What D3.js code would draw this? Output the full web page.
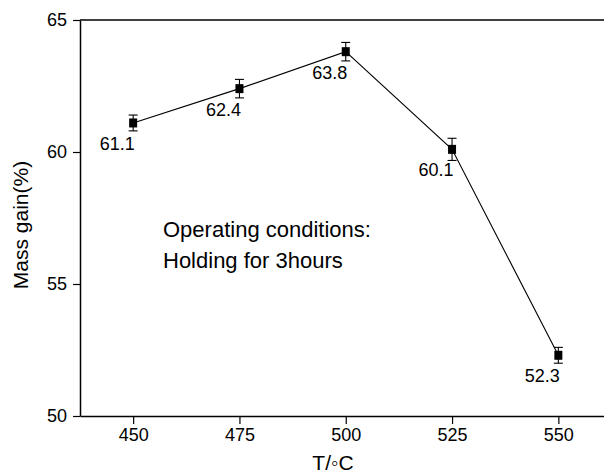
<!DOCTYPE html>
<html>
<head>
<meta charset="utf-8">
<script src="https://cdn.jsdelivr.net/npm/d3@7"></script>
<style>
  body { margin: 0; background: #fff; }
  svg { font-family: "Liberation Sans", Arial, sans-serif; }
</style>
</head>
<body>
<div id="chart"></div>
<script>
// data
var temps = [450, 475, 500, 525, 550];
var gains = [61.1, 62.4, 63.8, 60.1, 52.3];
var errs = [0.3, 0.35, 0.35, 0.42, 0.3];
var xTicks = [450, 475, 500, 525, 550];
var yTicks = [50, 55, 60, 65];
var note = ["Operating conditions:", "Holding for 3hours"];

var W = 604, H = 473;
var svg = d3.select("#chart").append("svg")
    .attr("width", W)
    .attr("height", H);

// scales
var x = d3.scaleLinear().domain([437.5, 562.5]).range([80, 611.5]);
var y = d3.scaleLinear().domain([50, 65]).range([416, 20]);

// axes
var xAxis = d3.axisBottom(x).tickValues(xTicks).tickSize(8).tickSizeOuter(0).tickPadding(4);
var yAxis = d3.axisLeft(y).tickValues(yTicks).tickSize(7).tickSizeOuter(0).tickPadding(6);

var gx = svg.append("g").attr("transform", "translate(0,416)").call(xAxis);
var gy = svg.append("g").attr("transform", "translate(80,0)").call(yAxis);

[gx, gy].forEach(function(g) {
    g.select(".domain").attr("stroke", "#000").attr("stroke-width", 1.5);
    g.selectAll(".tick line").attr("stroke", "#000").attr("stroke-width", 1.2);
    g.selectAll(".tick text").attr("fill", "#000").attr("font-size", "18px")
        .attr("font-family", "Liberation Sans, Arial, sans-serif");
});

// top border
svg.append("line")
    .attr("x1", x.range()[0]).attr("x2", W)
    .attr("y1", y(65)).attr("y2", y(65))
    .attr("stroke", "#000").attr("stroke-width", 1.5);

// axis titles
svg.append("text")
    .attr("x", 333).attr("y", 470)
    .attr("text-anchor", "middle")
    .attr("font-size", "21px")
    .text("T/\u25E6C");

svg.append("text")
    .attr("transform", "translate(28,225) rotate(-90)")
    .attr("text-anchor", "middle")
    .attr("font-size", "21px")
    .text("Mass gain(%)");

// data line
var line = d3.line()
    .x(function(d, i) { return x(temps[i]); })
    .y(function(d) { return y(d); });

svg.append("path")
    .datum(gains)
    .attr("d", line)
    .attr("fill", "none")
    .attr("stroke", "#000")
    .attr("stroke-width", 1.1);

// error bars
var pts = svg.append("g").selectAll("g")
    .data(gains).enter()
    .append("g");

pts.append("line")
    .attr("x1", function(d, i) { return x(temps[i]); })
    .attr("x2", function(d, i) { return x(temps[i]); })
    .attr("y1", function(d, i) { return y(d + errs[i]); })
    .attr("y2", function(d, i) { return y(d - errs[i]); })
    .attr("stroke", "#000").attr("stroke-width", 1.1);

pts.append("line")
    .attr("x1", function(d, i) { return x(temps[i]) - 4.5; })
    .attr("x2", function(d, i) { return x(temps[i]) + 4.5; })
    .attr("y1", function(d, i) { return y(d + errs[i]); })
    .attr("y2", function(d, i) { return y(d + errs[i]); })
    .attr("stroke", "#000").attr("stroke-width", 1.1);

pts.append("line")
    .attr("x1", function(d, i) { return x(temps[i]) - 4.5; })
    .attr("x2", function(d, i) { return x(temps[i]) + 4.5; })
    .attr("y1", function(d, i) { return y(d - errs[i]); })
    .attr("y2", function(d, i) { return y(d - errs[i]); })
    .attr("stroke", "#000").attr("stroke-width", 1.1);

// square markers
pts.append("rect")
    .attr("x", function(d, i) { return x(temps[i]) - 4; })
    .attr("y", function(d) { return y(d) - 4.5; })
    .attr("width", 8)
    .attr("height", 9)
    .attr("fill", "#000");

// value labels
pts.append("text")
    .attr("x", function(d, i) { return x(temps[i]) - 16; })
    .attr("y", function(d) { return y(d) + 27; })
    .attr("text-anchor", "middle")
    .attr("font-size", "18px")
    .text(function(d) { return d.toFixed(1); });

// annotation
svg.append("g").selectAll("text")
    .data(note).enter()
    .append("text")
    .attr("x", 163)
    .attr("y", function(d, i) { return 237 + i * 31; })
    .attr("font-size", "22px")
    .text(function(d) { return d; });
</script>
</body>
</html>
